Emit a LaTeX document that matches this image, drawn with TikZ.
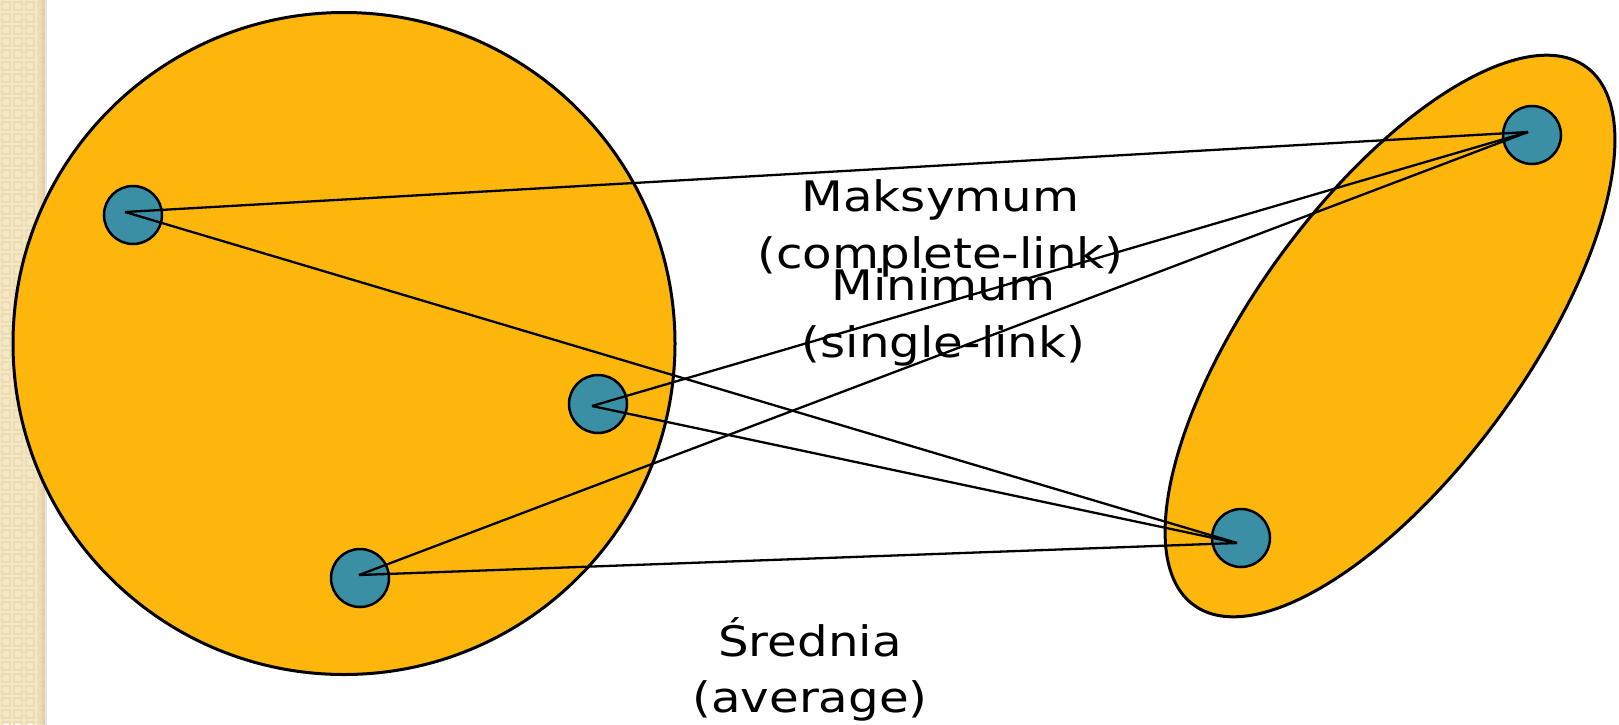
\documentclass[tikz,border=0pt]{standalone}
\usepackage{fontspec}
\newfontfamily\lblfont[FakeStretch=1.15]{DejaVu Sans}
\usetikzlibrary{calc}
\definecolor{clusterfill}{RGB}{253,183,12}
\definecolor{pointfill}{RGB}{58,143,165}
\definecolor{stripbase}{RGB}{245,231,195}
\definecolor{stripdark}{RGB}{236,220,180}
\definecolor{stripshade}{RGB}{214,196,155}
\tikzset{
  cluster/.style={fill=clusterfill, draw=black, line width=3pt},
  pointnode/.style={circle, fill=pointfill, draw=black, line width=2.5pt, minimum size=58pt, inner sep=0pt},
  link/.style={draw=black, line width=2.3pt},
  lbl/.style={anchor=base, inner sep=0pt, font=\lblfont\fontsize{42pt}{50pt}\selectfont}
}
\begin{document}
\begin{tikzpicture}[x=1pt,y=1pt]
\useasboundingbox (0,0) rectangle (1619,-724);
\fill[white] (0,0) rectangle (1619,-724);

% decorative side strip
\fill[stripbase] (0,0) rectangle (45,-724);
\foreach \i in {0,...,3}{
  \foreach \j in {0,...,60}{
    \draw[stripdark, line width=1.6pt] (\i*12+2,-\j*12-2) rectangle ++(8,-8);
  }
}
\shade[left color=stripbase, right color=stripshade, opacity=0.7] (36,0) rectangle (45,-724);
\fill[black!10] (45,0) rectangle (46.5,-724);

% clusters
\path[cluster] (344,-343.5) circle[radius=331];
\path[cluster, rotate around={53.9:(1390,-336)}] (1390,-336) ellipse[x radius=333, y radius=136];

% points
\node[pointnode] (A) at (133,-215) {};
\node[pointnode] (B) at (598,-404) {};
\node[pointnode] (C) at (360,-578) {};
\node[pointnode] (D) at (1532,-135) {};
\node[pointnode] (E) at (1241,-538) {};

% end points of the links inside each point
\coordinate (pA) at ($(A.center)+(-8,3)$);
\coordinate (pB) at ($(B.center)+(-6,-2)$);
\coordinate (pC) at ($(C.center)+(-1,3)$);
\coordinate (pD) at ($(D.center)+(-4,3)$);
\coordinate (pE) at ($(E.center)+(-4,-5)$);

% links between the clusters
\draw[link] (pA) -- (pD);
\draw[link] (pA) -- (pE);
\draw[link] (pB) -- (pD);
\draw[link] (pB) -- (pE);
\draw[link] (pC) -- (pD);
\draw[link] (pC) -- (pE);

% labels
\node[lbl] (maxa) at (940.5,-211.5) {Maksymum};
\node[lbl] (maxb) at (940.5,-268) {(complete-link)};
\node[lbl] (mina) at (943.5,-300) {Minimum};
\node[lbl] (minb) at (943.5,-357) {(single-link)};
\node[lbl] (avga) at (810,-656) {Średnia};
\node[lbl] (avgb) at (810,-712) {(average)};
\end{tikzpicture}
\end{document}
